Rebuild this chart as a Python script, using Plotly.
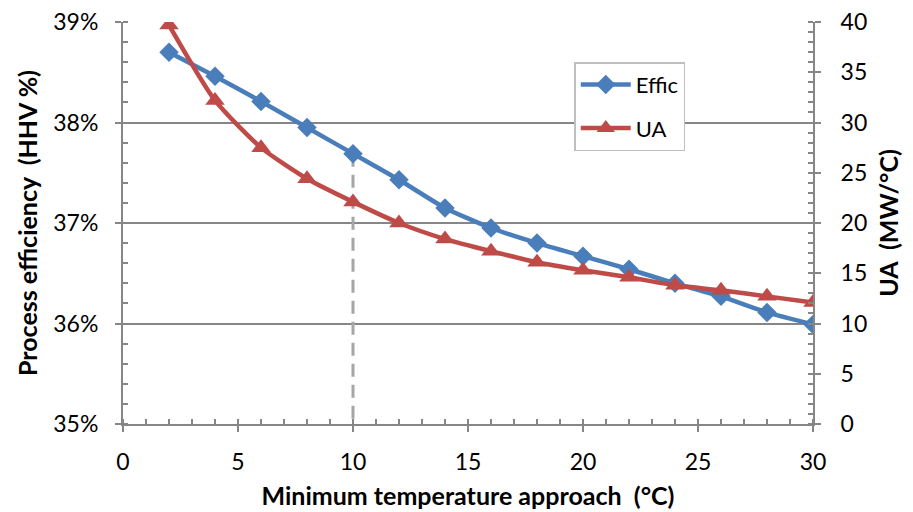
import plotly.graph_objects as go

approach = [2, 4, 6, 8, 10, 12, 14, 16, 18, 20, 22, 24, 26, 28, 30]
effic = [38.70, 38.46, 38.21, 37.95, 37.69, 37.43, 37.15, 36.95, 36.80, 36.67, 36.54, 36.40, 36.27, 36.11, 35.99]
ua = [39.7, 32.2, 27.5, 24.4, 22.1, 20.0, 18.4, 17.2, 16.1, 15.3, 14.6, 13.8, 13.3, 12.7, 12.1]
marked_x = 10

blue = "#4A7EBB"
red = "#BE4B48"
grey = "#868686"
font_family = "Lato, 'Open Sans', sans-serif"

idx = approach.index(marked_x)

fig = go.Figure()
fig.add_trace(go.Scatter(
    x=[marked_x, marked_x], y=[effic[idx], 35], mode="lines",
    line=dict(color="#A6A6A6", width=3, dash="13px,8px"),
    showlegend=False, hoverinfo="skip"))
fig.add_trace(go.Scatter(
    x=approach, y=effic, name="Effic", mode="lines+markers", legendgroup="a",
    line=dict(color=blue, width=4.5, shape="spline", smoothing=0.6),
    marker=dict(symbol="diamond", size=15, color=blue)))
fig.add_trace(go.Scatter(
    x=approach, y=ua, name="UA", mode="lines+markers", yaxis="y2", legendgroup="b",
    line=dict(color=red, width=4.5, shape="spline", smoothing=0.6),
    marker=dict(symbol="triangle-up", size=17, color=red)))

tickfont = dict(family=font_family, size=23, color="black")
titlefont = dict(family=font_family, size=25, color="black", weight="bold")

fig.update_layout(
    width=913, height=512,
    margin=dict(l=123, r=100, t=22, b=88, autoexpand=False),
    paper_bgcolor="white", plot_bgcolor="white",
    font=dict(family=font_family),
    xaxis=dict(
        range=[0, 30], dtick=5, tick0=0, automargin=False,
        showgrid=False, zeroline=False,
        showline=True, linecolor=grey, linewidth=2,
        ticks="outside", ticklen=6, tickwidth=2, tickcolor=grey,
        minor=dict(dtick=1, ticks="inside", ticklen=5, tickwidth=1.5, tickcolor=grey, showgrid=False),
        tickfont=tickfont, ticklabelstandoff=10,
        title=dict(text="Minimum temperature approach&nbsp;&nbsp;(°C)", font=titlefont, standoff=14),
    ),
    yaxis=dict(
        range=[35, 39], dtick=1, tick0=35, ticksuffix="%", automargin=False,
        showgrid=True, gridcolor=grey, gridwidth=1.5, zeroline=False,
        showline=True, linecolor=grey, linewidth=2,
        ticks="outside", ticklen=6, tickwidth=2, tickcolor=grey,
        minor=dict(dtick=0.2, ticks="inside", ticklen=5, tickwidth=1.5, tickcolor=grey, showgrid=False),
        tickfont=tickfont, ticklabelstandoff=12,
        title=dict(text="Process efficiency&nbsp;&nbsp;(HHV %)", font=titlefont, standoff=9),
    ),
    yaxis2=dict(
        range=[0, 40], dtick=5, tick0=0, overlaying="y", side="right", automargin=False,
        showgrid=False, zeroline=False,
        showline=True, linecolor=grey, linewidth=2,
        ticks="outside", ticklen=6, tickwidth=2, tickcolor=grey,
        minor=dict(dtick=1, ticks="inside", ticklen=5, tickwidth=1.5, tickcolor=grey, showgrid=False),
        tickfont=tickfont, ticklabelstandoff=15,
        title=dict(text="UA&nbsp;&nbsp;(MW/°C)", font=titlefont, standoff=14),
    ),
    legend=dict(
        x=0.654, y=0.90, xanchor="left", yanchor="top",
        bgcolor="white", bordercolor="#BFBFBF", borderwidth=1.5,
        font=dict(family=font_family, size=22, color="black"),
        itemwidth=50, tracegroupgap=12,
    ),
)

fig.write_html("out.html")
